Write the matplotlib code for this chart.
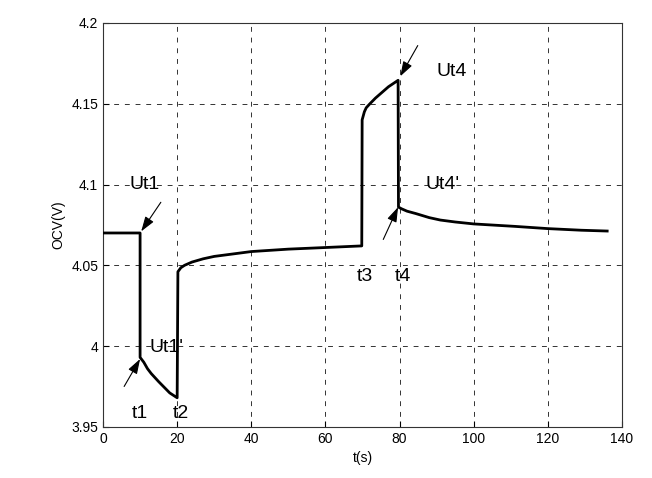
import numpy as np
import matplotlib.pyplot as plt

plt.rcParams['font.family'] = ['Liberation Sans', 'DejaVu Sans']

# OCV response
t = [0, 10, 10, 11, 12, 13, 15, 18, 20, 20.2, 21, 22, 24, 27, 30, 35, 40, 50, 60, 69.8,
     69.9, 70.5, 71, 72, 73.5, 75, 77, 79.6,
     79.7, 80.5, 82, 84.4, 88, 91, 95, 100, 111, 120, 129, 136]
ocv = [4.07, 4.07, 3.993, 3.990, 3.986, 3.983, 3.978, 3.971, 3.968,
       4.046, 4.0485, 4.050, 4.052, 4.054, 4.0555, 4.057, 4.0585, 4.060, 4.061, 4.062,
       4.140, 4.145, 4.1475, 4.150, 4.1535, 4.1565, 4.1605, 4.1645,
       4.086, 4.085, 4.0835, 4.082, 4.0795, 4.078, 4.0768, 4.0756, 4.0741, 4.0727,
       4.0717, 4.0712]

# labels: (text, x, y)
labels = [("Ut1", 7.1, 4.1), ("Ut1'", 12.5, 3.999), ("t1", 10.0, 3.958), ("t2", 20.9, 3.958),
          ("t3", 70.7, 4.043), ("t4", 80.9, 4.043), ("Ut4", 90.0, 4.170), ("Ut4'", 86.9, 4.1)]
# arrows: (tail x, tail y, tip x, tip y)
arrows = [(15.6, 4.089, 10.3, 4.071), (5.7, 3.975, 10.0, 3.992),
          (84.9, 4.186, 80.2, 4.167), (75.6, 4.066, 79.6, 4.086)]

fig = plt.figure(figsize=(6.52, 4.78), dpi=100)
ax = fig.add_axes([0.158, 0.107, 0.796, 0.845])

ax.plot(t, ocv, color='black', lw=2.0, zorder=3)

for txt, x, y in labels:
    ax.text(x, y, txt, fontsize=14, ha='center' if txt.startswith('t') else 'left',
            va='center', zorder=4)

for x0, y0, x1, y1 in arrows:
    ax.annotate('', xy=(x1, y1), xytext=(x0, y0),
                arrowprops=dict(arrowstyle='-|>,head_length=0.9,head_width=0.3',
                                color='black', lw=0.8, shrinkA=0, shrinkB=0), zorder=4)

ax.set_xlim(0, 140)
ax.set_ylim(3.95, 4.2)
ax.set_xticks(np.arange(0, 141, 20))
ax.set_yticks([3.95, 4.0, 4.05, 4.1, 4.15, 4.2])
ax.set_yticklabels(['3.95', '4', '4.05', '4.1', '4.15', '4.2'])
ax.tick_params(direction='in', labelsize=10, length=4)
ax.grid(True, color='black', linestyle=(0, (5, 6)), lw=0.7, alpha=0.8)
for s in ax.spines.values():
    s.set_linewidth(0.8)
    s.set_color('#333333')

ax.set_xlabel('t(s)', fontsize=10)
ax.set_ylabel('OCV(V)', fontsize=10)

fig.savefig('out.png', dpi=100)
